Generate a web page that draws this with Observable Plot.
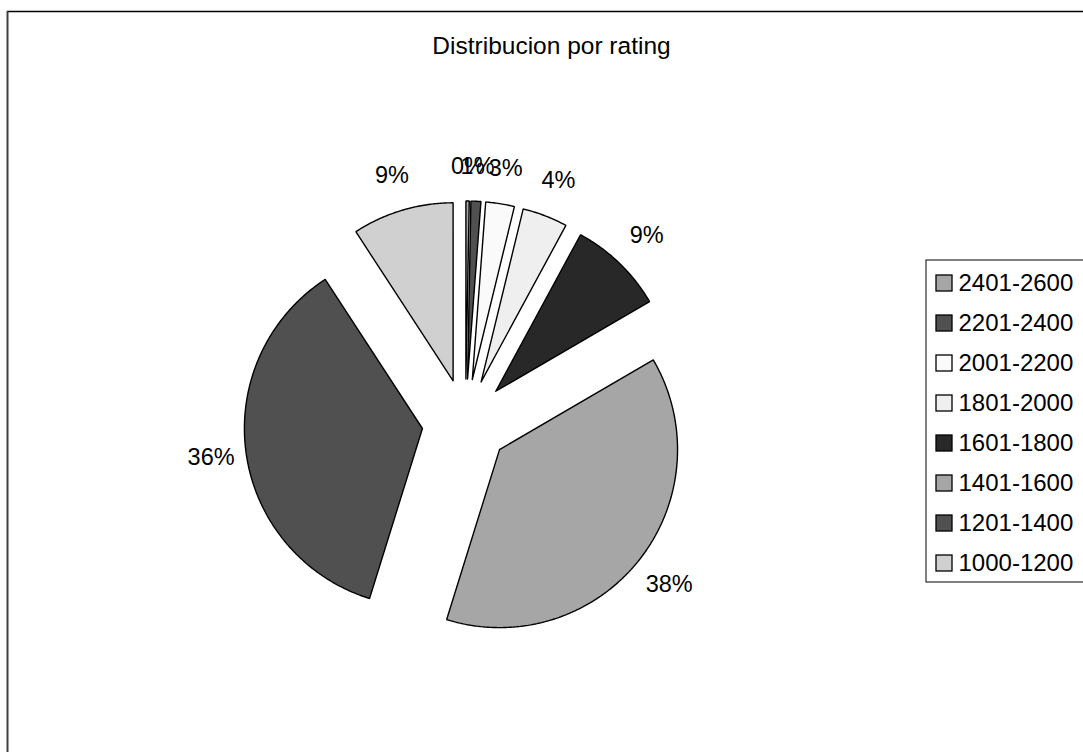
<!DOCTYPE html>
<html>
<head>
<meta charset="utf-8">
<script src="https://cdn.jsdelivr.net/npm/d3@7"></script>
<script src="https://cdn.jsdelivr.net/npm/@observablehq/plot@0.6"></script>
<style>
  html, body { margin: 0; padding: 0; background: #fff; }
  #chart svg { display: block; }
</style>
</head>
<body>
<div id="chart"></div>
<script>
// ---- data ----
const title = "Distribucion por rating";
const categories = ["2401-2600", "2201-2400", "2001-2200", "1801-2000", "1601-1800", "1401-1600", "1201-1400", "1000-1200"];
const shares = [0.3, 0.9, 2.6, 4.1, 8.7, 38.2, 36.0, 9.2];
const grays = ["#a6a6a6", "#505050", "#fafafa", "#efefef", "#282828", "#a6a6a6", "#505050", "#d0d0d0"];

// ---- layout ----
const W = 1083, H = 752;
const CX = 465, CY = 422, R = 178, EXPLODE = 43.5;
const LABEL_GAP = 34, LABEL_DIAG = 5;
const LEG_X = 926, LEG_Y = 260, LEG_W = 180, LEG_H = 322, LEG_ROW = 40, SW = 16;
const FONT = "Liberation Sans, Arial, sans-serif";

const total = d3.sum(shares);
let cum = 0;
const slices = shares.map((v, i) => {
  const a0 = cum / total * 2 * Math.PI;
  cum += v;
  const a1 = cum / total * 2 * Math.PI;
  const mid = (a0 + a1) / 2;
  const ox = CX + EXPLODE * Math.sin(mid);
  const oy = CY - EXPLODE * Math.cos(mid);
  return {cat: categories[i], value: v, a0, a1, mid, ox, oy};
});

const piePoints = [];
for (const s of slices) {
  piePoints.push({cat: s.cat, x: s.ox, y: s.oy});
  const n = Math.max(2, Math.ceil((s.a1 - s.a0) / (Math.PI / 360)));
  for (let k = 0; k <= n; k++) {
    const a = s.a0 + (s.a1 - s.a0) * k / n;
    piePoints.push({cat: s.cat, x: s.ox + R * Math.sin(a), y: s.oy - R * Math.cos(a)});
  }
  piePoints.push({cat: s.cat, x: s.ox, y: s.oy});
}

const labels = slices.map(s => {
  const d = R + LABEL_GAP + LABEL_DIAG * Math.abs(Math.sin(2 * s.mid));
  return {text: Math.round(s.value / total * 100) + "%", x: s.ox + d * Math.sin(s.mid), y: s.oy - d * Math.cos(s.mid)};
});

const chart = Plot.plot({
  width: W,
  height: H,
  margin: 0,
  style: {fontFamily: FONT, background: "#fff", color: "#000"},
  x: {domain: [0, W], range: [0, W], axis: null},
  y: {domain: [0, H], range: [0, H], axis: null},
  color: {domain: categories, range: grays, legend: false},
  marks: [
    // chart frame
    Plot.ruleY([11], {x1: 7, x2: W + 10, stroke: "#000", strokeWidth: 1.5}),
    Plot.ruleX([7], {y1: 11, y2: H + 10, stroke: "#404040", strokeWidth: 2}),
    // title
    Plot.text([title], {x: 551, y: 53, text: d => d, fontSize: 24.5, lineAnchor: "bottom", fill: "#000"}),
    // pie slices
    Plot.line(piePoints, {x: "x", y: "y", z: "cat", fill: "cat", stroke: "#000", strokeWidth: 1.4, strokeLinejoin: "miter", curve: "linear"}),
    // data labels
    Plot.text(labels, {x: "x", y: "y", text: "text", fontSize: 23.5, fill: "#000"}),
    // legend box
    Plot.rect([0], {x1: LEG_X, x2: LEG_X + LEG_W, y1: LEG_Y, y2: LEG_Y + LEG_H, fill: "#fff", stroke: "#000", strokeWidth: 1}),
    Plot.rect(categories, {
      x1: LEG_X + 10, x2: LEG_X + 10 + SW,
      y1: (d, i) => LEG_Y + 15 + i * LEG_ROW, y2: (d, i) => LEG_Y + 15 + SW + i * LEG_ROW,
      fill: d => d, stroke: "#000", strokeWidth: 1.3
    }),
    Plot.text(categories, {
      x: LEG_X + 32, y: (d, i) => LEG_Y + 30 + i * LEG_ROW,
      text: d => d, textAnchor: "start", lineAnchor: "bottom", fontSize: 24, fill: "#000"
    })
  ]
});
document.getElementById("chart").appendChild(chart);
</script>
</body>
</html>
